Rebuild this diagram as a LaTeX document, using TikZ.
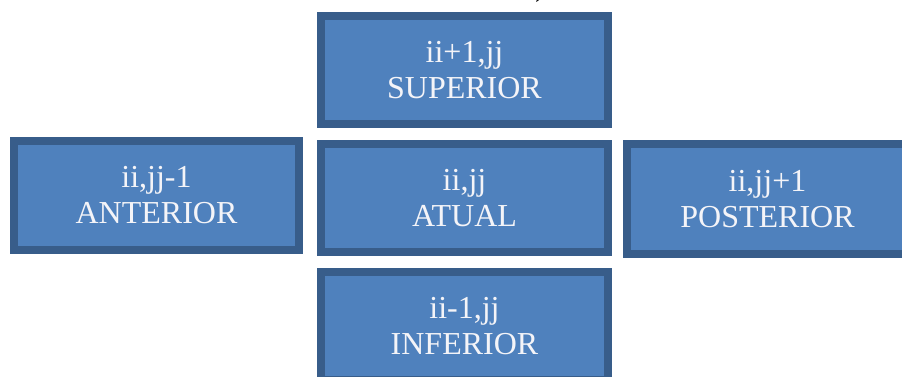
\documentclass[tikz,border=0pt]{standalone}
\usepackage{fontspec}
\setmainfont{Liberation Serif}
\definecolor{boxfill}{HTML}{4F81BD}
\definecolor{boxline}{HTML}{385D8A}
\definecolor{boxtext}{HTML}{F4F4F8}
\tikzset{
  cell/.style={draw=boxline, fill=boxfill, line width=8pt, rectangle,
    text=boxtext, align=center, font=\fontsize{32}{36}\selectfont,
    inner sep=0pt, minimum width=287pt, minimum height=108pt}
}
\begin{document}
\begin{tikzpicture}[x=1pt,y=-1pt]
\useasboundingbox (0,0) rectangle (902,376);
\clip (0,0) rectangle (902,376);
\node[font=\fontsize{28}{36}\selectfont, anchor=base] (paren) at (540,-4) {)};
\node[cell] (sup) at (464.5,70) {ii+1,jj\\SUPERIOR};
\node[cell] (atual) at (464.5,198) {ii,jj\\ATUAL};
\node[cell, minimum width=285pt, minimum height=109pt] (ant) at (156.5,195.5) {ii,jj-1\\ANTERIOR};
\node[cell, minimum width=281pt, minimum height=110pt] (post) at (767.5,199) {ii,jj+1\\POSTERIOR};
\node[cell] (inf) at (464.5,326) {ii-1,jj\\INFERIOR};
\end{tikzpicture}
\end{document}
